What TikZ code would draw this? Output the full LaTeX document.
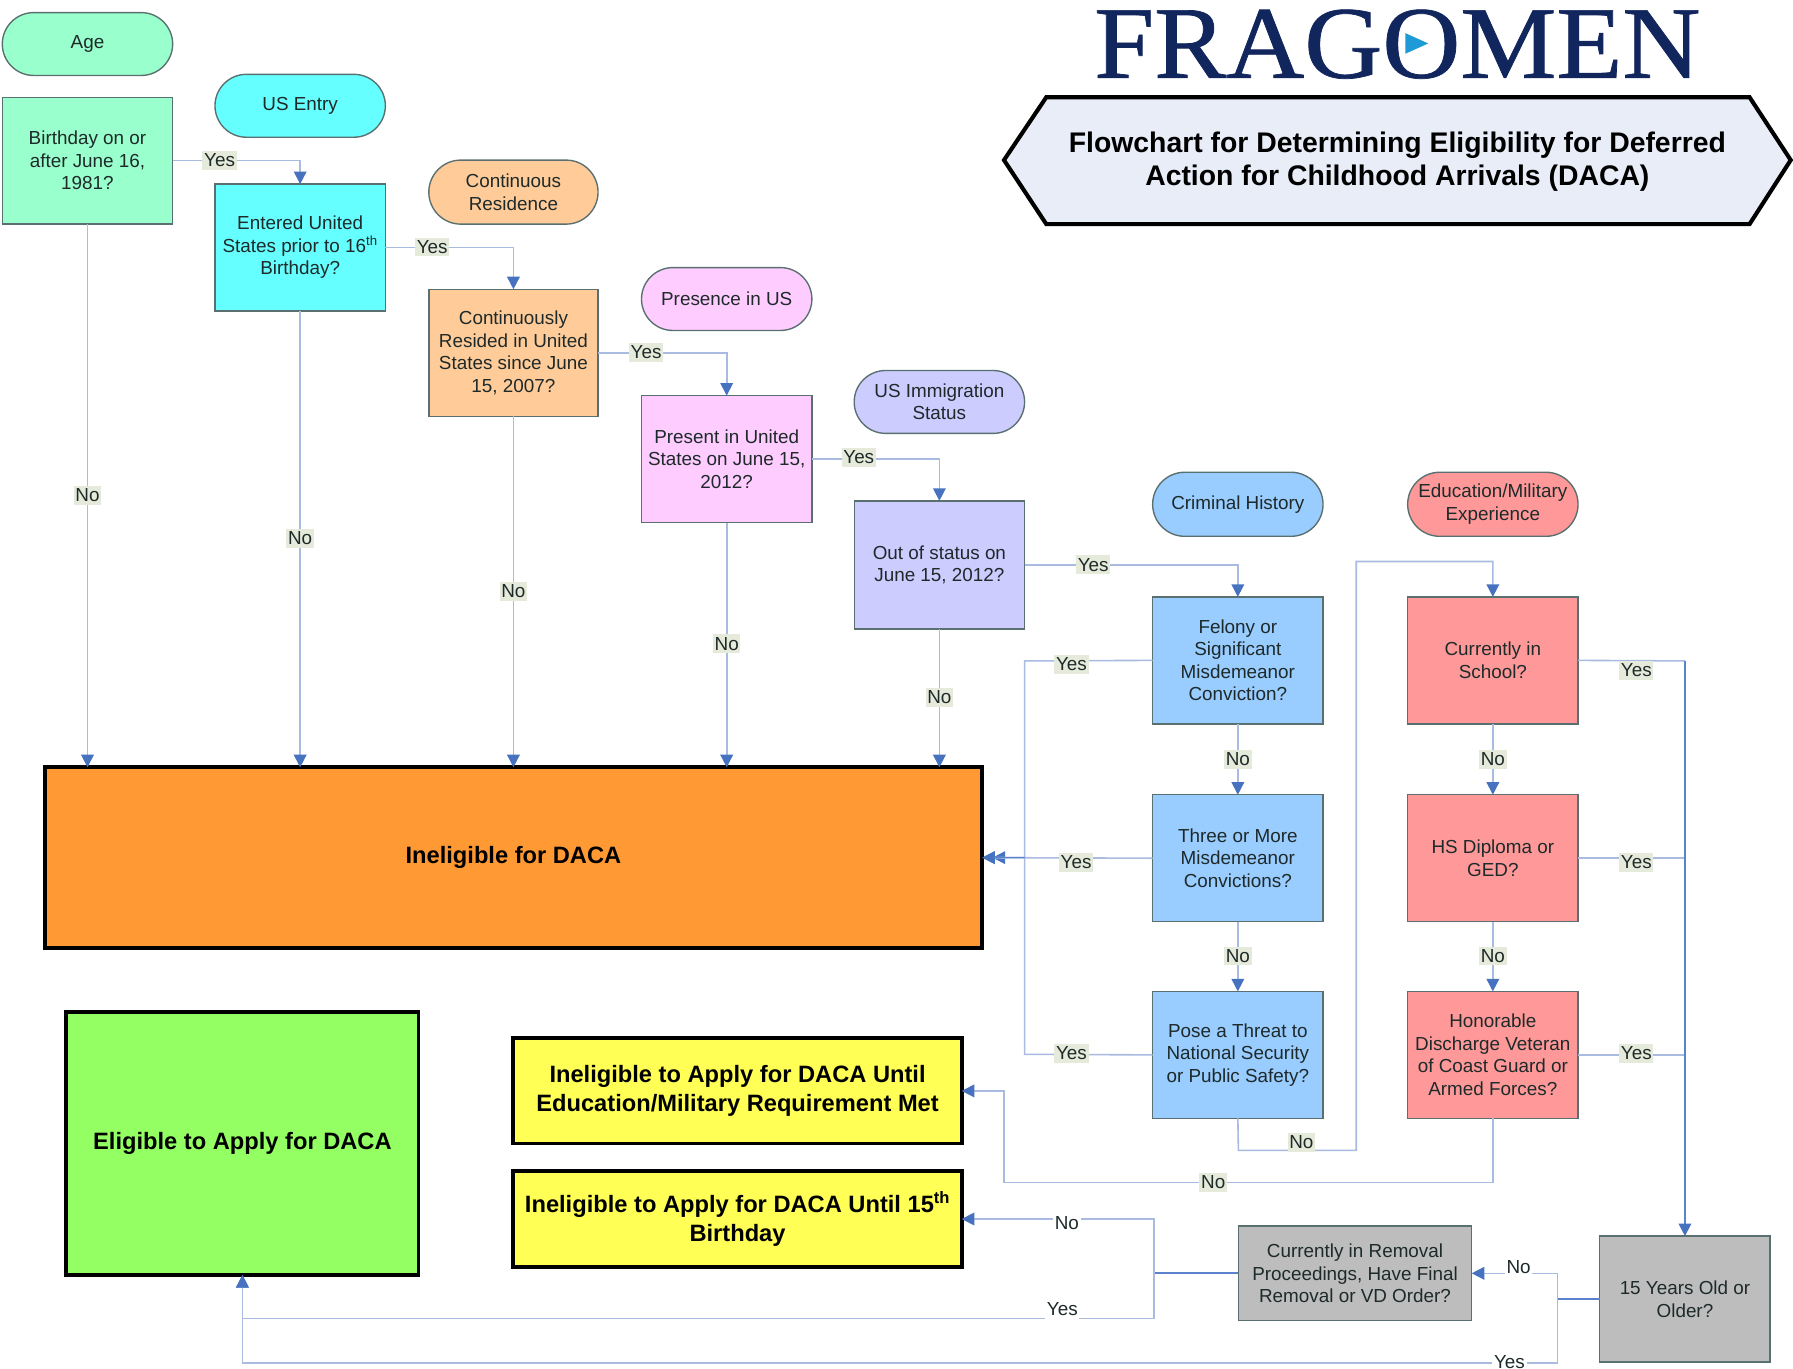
\documentclass[tikz,border=0pt]{standalone}
\usepackage{fontspec}
\setmainfont{Liberation Sans}
\newfontfamily\logofont[FakeBold=0.7]{Liberation Serif}
\usetikzlibrary{arrows.meta,shapes.misc,calc}
\definecolor{cage}{HTML}{99FFCC}
\definecolor{centry}{HTML}{66FFFF}
\definecolor{ccont}{HTML}{FFCC99}
\definecolor{cpres}{HTML}{FFCCFF}
\definecolor{cstat}{HTML}{CCCCFF}
\definecolor{ccrim}{HTML}{99CCFF}
\definecolor{cedu}{HTML}{FF9999}
\definecolor{corange}{HTML}{FF9933}
\definecolor{cgreen}{HTML}{94FF62}
\definecolor{cyell}{HTML}{FFFF55}
\definecolor{cgrey}{HTML}{BDBDBD}
\definecolor{chex}{HTML}{E9EDF8}
\definecolor{cline}{HTML}{A9BBE0}
\definecolor{cdark}{HTML}{5B82CC}
\definecolor{chead}{HTML}{4672C0}
\definecolor{cborder}{HTML}{5A7070}
\definecolor{clab}{HTML}{E6EADA}
\definecolor{ctext}{HTML}{1E2A2A}
\definecolor{cnavy}{HTML}{12265E}
\definecolor{clogo}{HTML}{1E9AD6}
\tikzset{
  base/.style={inner sep=0pt,outer sep=0pt,align=center,text=ctext,font=\fontsize{16.5}{19.7}\selectfont},
  qbox/.style={base,draw=cborder,line width=1.2pt,rectangle},
  pill/.style={base,draw=cborder,line width=1.2pt,rounded rectangle,rounded rectangle arc length=180},
  resbox/.style={base,draw=black,line width=3.4pt,rectangle,text=black,font=\bfseries\fontsize{20.7}{25}\selectfont},
  lab/.style={inner xsep=1.5pt,inner ysep=2.5pt,outer sep=0pt,fill=clab,text=ctext,font=\fontsize{16.5}{18}\selectfont},
  labw/.style={lab,fill=white},
  conn/.style={draw=cline,line width=1.4pt},
  connd/.style={draw=cdark,line width=1.5pt},
  arr/.style={-{Triangle[length=11pt,width=11pt,color=chead]}}
}
\newcommand\placebox[7]{%
  \pgfmathsetmacro\cxx{(#3+#5)/2}\pgfmathsetmacro\cyy{(#4+#6)/2}%
  \pgfmathsetmacro\bww{#5-#3}\pgfmathsetmacro\bhh{#6-#4}%
  \node[#2,minimum width=\bww pt,minimum height=\bhh pt] (#1) at (\cxx,\cyy) {#7};}
\begin{document}
\begin{tikzpicture}[x=1pt,y=-1pt]
\useasboundingbox (0,0) rectangle (1568,1197.2);
\fill[white] (0,0) rectangle (1568,1197.2);
% logo
\node[inner sep=0pt,anchor=base,text=cnavy,font=\logofont\fontsize{90}{90}\selectfont] (logo) at (1222,68) {\scalebox{1.05}[1]{FRAGOMEN}};
\fill[clogo] (1229,29) -- (1249,38) -- (1229,47) -- cycle;
% title
\draw[draw=black,line width=3.6pt,fill=chex,line join=miter] (878,140) -- (915,85) -- (1530,85) -- (1566,140) -- (1530,196) -- (915,196) -- cycle;
\node[inner sep=0pt,align=center,text=black,font=\bfseries\fontsize{24.8}{29}\selectfont] (title) at (1222,141.5) {Flowchart for Determining Eligibility for Deferred\\Action for Childhood Arrivals (DACA)};
% pills
\placebox{pAge}{pill,fill=cage}{2}{11}{151}{66}{Age}
\placebox{pEntry}{pill,fill=centry}{188}{65}{337}{120}{US Entry}
\placebox{pCont}{pill,fill=ccont}{375}{140}{523}{196}{Continuous\\Residence}
\placebox{pPres}{pill,fill=cpres}{561}{234}{710}{289}{Presence in US}
\placebox{pStat}{pill,fill=cstat}{747}{324}{896}{379}{US Immigration\\Status}
\placebox{pCrim}{pill,fill=ccrim}{1008}{413}{1157}{469}{Criminal History}
\placebox{pEdu}{pill,fill=cedu}{1231}{413}{1380}{469}{Education/Military\\Experience}
% question boxes
\placebox{bAge}{qbox,fill=cage}{2}{85}{151}{196}{Birthday on or\\after June 16,\\1981?}
\placebox{bEntry}{qbox,fill=centry}{188}{161}{337}{272}{Entered United\\States prior to 16\textsuperscript{th}\\Birthday?}
\placebox{bCont}{qbox,fill=ccont}{375}{253}{523}{364}{Continuously\\Resided in United\\States since June\\15, 2007?}
\placebox{bPres}{qbox,fill=cpres}{561}{346}{710}{457}{Present in United\\States on June 15,\\2012?}
\placebox{bStat}{qbox,fill=cstat}{747}{438}{896}{550}{Out of status on\\June 15, 2012?}
\placebox{bFel}{qbox,fill=ccrim}{1008}{522}{1157}{633}{Felony or\\Significant\\Misdemeanor\\Conviction?}
\placebox{bThree}{qbox,fill=ccrim}{1008}{695}{1157}{806}{Three or More\\Misdemeanor\\Convictions?}
\placebox{bThreat}{qbox,fill=ccrim}{1008}{867}{1157}{978}{Pose a Threat to\\National Security\\or Public Safety?}
\placebox{bSchool}{qbox,fill=cedu}{1231}{522}{1380}{633}{Currently in\\School?}
\placebox{bHS}{qbox,fill=cedu}{1231}{695}{1380}{806}{HS Diploma or\\GED?}
\placebox{bHon}{qbox,fill=cedu}{1231}{867}{1380}{978}{Honorable\\Discharge Veteran\\of Coast Guard or\\Armed Forces?}
\placebox{bRem}{qbox,fill=cgrey}{1083}{1072}{1287}{1155}{Currently in Removal\\Proceedings, Have Final\\Removal or VD Order?}
\placebox{bFif}{qbox,fill=cgrey}{1399}{1081}{1548}{1191}{15 Years Old or\\Older?}
% outcomes
\placebox{rInel}{resbox,fill=corange}{39}{671}{859}{829}{Ineligible for DACA}
\placebox{rElig}{resbox,fill=cgreen}{58}{885}{366}{1115}{Eligible to Apply for DACA}
\placebox{rEdu}{resbox,fill=cyell}{449}{908}{841}{1000}{Ineligible to Apply for DACA Until\\Education/Military Requirement Met}
\placebox{rBirth}{resbox,fill=cyell}{449}{1024}{841}{1108}{Ineligible to Apply for DACA Until 15\textsuperscript{th}\\Birthday}
% junction coordinates
\coordinate (jInel) at (868,750);
\coordinate (jThreatA) at (1083,1006);
\coordinate (jThreatB) at (1186,1006);
\coordinate (jThreatC) at (1186,491);
\coordinate (jFelL) at (896,578);
\coordinate (jTheL) at (896,922);
\coordinate (jMid) at (896,750);
\coordinate (jSpine) at (1473.5,578);
\coordinate (jHonA) at (1305.5,1034);
\coordinate (jHonB) at (878,1034);
\coordinate (jHonC) at (878,954);
\coordinate (jFifL) at (1362,1136);
\coordinate (jFifT) at (1362,1113.5);
\coordinate (jFifB) at (1362,1192);
\coordinate (jFifE) at (212,1192);
\coordinate (jRemL) at (1009,1113.5);
\coordinate (jRemT) at (1009,1066);
\coordinate (jRemB) at (1009,1153);
\coordinate (jRemE) at (212,1153);
% connectors
\draw[conn,arr] (bAge.east) -| (bEntry.north);
\draw[conn,arr] (bEntry.east) -| (bCont.north);
\draw[conn,arr] (bCont.east) -| (bPres.north);
\draw[conn,arr] (bPres.east) -| (bStat.north);
\draw[conn,arr] (bStat.east) -| (bFel.north);
\draw[conn,arr] (bAge.south) -- (bAge.south |- rInel.north);
\draw[conn,arr] (bEntry.south) -- (bEntry.south |- rInel.north);
\draw[conn,arr] (bCont.south) -- (bCont.south |- rInel.north);
\draw[conn,arr] (bPres.south) -- (bPres.south |- rInel.north);
\draw[conn,arr] (bStat.south) -- (bStat.south |- rInel.north);
\draw[conn,arr] (bFel.west) -- (jFelL) -- (jMid) -- (jInel);
\draw[conn,arr] (bThreat.west) -- (jTheL) -- (jMid) -- (rInel.east);
\draw[conn,arr] (bThree.west) -- (rInel.east);
\draw[connd] (jMid) -- (jInel);
\draw[conn,arr] (bFel.south) -- (bThree.north);
\draw[conn,arr] (bThree.south) -- (bThreat.north);
\draw[conn,arr] (bThreat.south) -- (jThreatA) -- (jThreatB) -- (jThreatC) -| (bSchool.north);
\draw[conn,arr] (bSchool.south) -- (bHS.north);
\draw[conn,arr] (bHS.south) -- (bHon.north);
\draw[conn] (bSchool.east) -- (jSpine);
\draw[conn] (bHS.east) -- (jSpine |- bHS.east);
\draw[conn] (bHon.east) -- (jSpine |- bHon.east);
\draw[connd,arr] (jSpine) -- (bFif.north);
\draw[conn,arr] (bHon.south) -- (jHonA) -- (jHonB) -- (jHonC) -- (rEdu.east);
\draw[connd] (bFif.west) -- (jFifL);
\draw[conn,arr] (jFifL) -- (jFifT) -- (bRem.east);
\draw[conn,arr] (jFifL) -- (jFifB) -- (jFifE) -- (rElig.south);
\draw[connd] (bRem.west) -- (jRemL);
\draw[conn,arr] (jRemL) -- (jRemT) -- (rBirth.east);
\draw[conn,arr] (jRemL) -- (jRemB) -- (jRemE) -- (rElig.south);
% labels
\node[lab] (l1) at (192,140) {Yes};
\node[lab] (l2) at (378,216) {Yes};
\node[lab] (l3) at (565,308) {Yes};
\node[lab] (l4) at (751,400) {Yes};
\node[lab] (l5) at (956,494) {Yes};
\node[lab] (l6) at (76.5,433) {No};
\node[lab] (l7) at (262.5,471) {No};
\node[lab] (l8) at (449,517) {No};
\node[lab] (l9) at (635.5,563) {No};
\node[lab] (l10) at (821.5,610) {No};
\node[lab] (l11) at (937,581) {Yes};
\node[lab] (l12) at (941,754) {Yes};
\node[lab] (l13) at (937,921) {Yes};
\node[lab] (l14) at (1082.5,664) {No};
\node[lab] (l15) at (1082.5,836) {No};
\node[lab] (l16) at (1138,999) {No};
\node[lab] (l17) at (1431,586) {Yes};
\node[lab] (l18) at (1431,754) {Yes};
\node[lab] (l19) at (1431,921) {Yes};
\node[lab] (l20) at (1305.5,664) {No};
\node[lab] (l21) at (1305.5,836) {No};
\node[lab] (l22) at (1061,1034) {No};
\node[labw] (l23) at (1328,1108) {No};
\node[labw] (l24) at (1320,1191) {Yes};
\node[labw] (l25) at (933,1070) {No};
\node[labw] (l26) at (929,1145) {Yes};
\end{tikzpicture}
\end{document}
